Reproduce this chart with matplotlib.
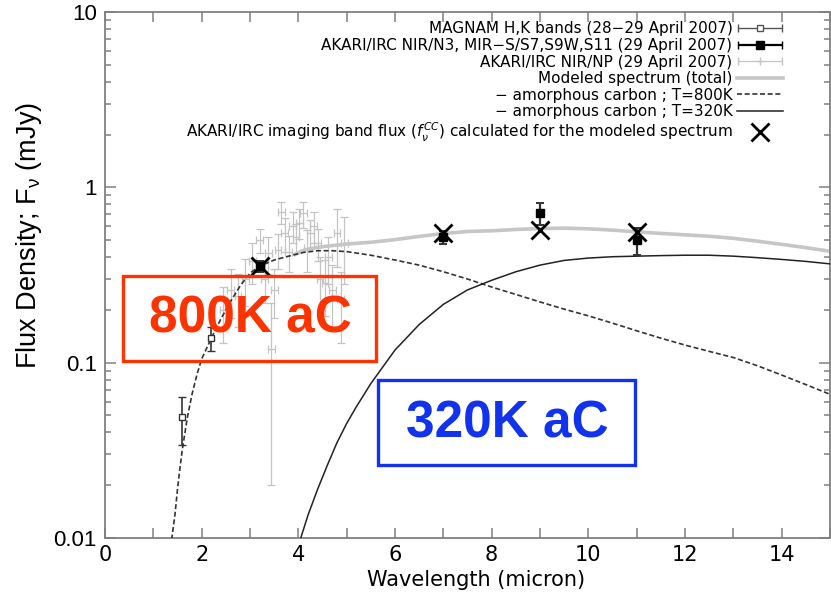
import numpy as np
import matplotlib
matplotlib.use("Agg")
import matplotlib.pyplot as plt
from matplotlib.patches import Rectangle
from matplotlib.lines import Line2D
from matplotlib.ticker import LogLocator, NullFormatter, MultipleLocator
from matplotlib.legend_handler import HandlerErrorbar
from matplotlib.container import ErrorbarContainer

# ---------------- data ----------------
# MAGNAM H,K bands
mag_w = [1.6, 2.2]
mag_f = [0.049, 0.138]
mag_e = [0.015, 0.021]

# AKARI/IRC N3, S7, S9W, S11
ak_w = [3.2, 7.0, 9.0, 11.0]
ak_f = [0.355, 0.52, 0.71, 0.50]
ak_e = [0.025, 0.045, 0.10, 0.09]

# AKARI/IRC NIR/NP spectrum
np_w = [2.45, 2.6, 2.75, 2.9, 3.05, 3.2, 3.3, 3.38, 3.44, 3.5, 3.58, 3.65,
        3.72, 3.8, 3.88, 3.95, 4.02, 4.1, 4.18, 4.25, 4.32, 4.4, 4.45, 4.55,
        4.62, 4.7, 4.8, 4.88, 4.95]
np_f = [0.20, 0.26, 0.24, 0.30, 0.38, 0.50, 0.30, 0.42, 0.12, 0.26, 0.44, 0.72,
        0.55, 0.43, 0.60, 0.52, 0.63, 0.71, 0.45, 0.55, 0.60, 0.48, 0.30, 0.285,
        0.40, 0.26, 0.55, 0.23, 0.48]
np_e = [0.07, 0.08, 0.08, 0.09, 0.10, 0.08, 0.08, 0.10, 0.10, 0.08, 0.10, 0.10,
        0.12, 0.10, 0.12, 0.10, 0.12, 0.12, 0.12, 0.10, 0.12, 0.10, 0.10, 0.10,
        0.12, 0.10, 0.20, 0.10, 0.20]
np_xe = 0.07

# model curves
m800_w = [1.38, 1.45, 1.5, 1.55, 1.6, 1.7, 1.8, 1.9, 2.0, 2.2, 2.4, 2.6, 2.8,
          3.0, 3.2, 3.5, 3.8, 4.1, 4.4, 4.7, 5.0, 5.5, 6.0, 6.5, 7.0, 7.5, 8.0,
          8.5, 9.0, 9.5, 10.0, 10.5, 11.0, 11.5, 12.0, 12.5, 13.0, 13.5, 14.0,
          14.5, 15.0]
m800_f = [0.0098, 0.0138, 0.019, 0.025, 0.032, 0.048, 0.066, 0.085, 0.105,
          0.138, 0.178, 0.224, 0.275, 0.324, 0.355, 0.385, 0.405, 0.425, 0.435,
          0.435, 0.43, 0.41, 0.385, 0.36, 0.33, 0.30, 0.27, 0.245, 0.222, 0.202,
          0.185, 0.168, 0.152, 0.138, 0.126, 0.116, 0.107, 0.096, 0.085, 0.075,
          0.066]

m320_w = [4.04, 4.2, 4.4, 4.6, 4.8, 5.0, 5.2, 5.5, 6.0, 6.5, 7.0, 7.5, 8.0, 8.5,
          9.0, 9.5, 10.0, 10.5, 11.0, 11.5, 12.0, 12.5, 13.0, 13.5, 14.0, 14.5, 15.0]
m320_f = [0.0098, 0.0135, 0.019, 0.026, 0.035, 0.045, 0.056, 0.076, 0.118, 0.165,
          0.215, 0.26, 0.295, 0.33, 0.36, 0.383, 0.395, 0.402, 0.405, 0.408,
          0.41, 0.41, 0.405, 0.397, 0.388, 0.378, 0.366]

tot_w = [3.9, 4.1, 4.4, 4.7, 5.0, 5.5, 6.0, 6.5, 7.0, 7.5, 8.0, 8.5, 9.0,
         9.5, 10.0, 10.5, 11.0, 11.5, 12.0, 12.5, 13.0, 13.5, 14.0, 14.5, 15.0]
tot_f = [0.41, 0.437, 0.455, 0.465, 0.475,
         0.486, 0.503, 0.525, 0.545, 0.56, 0.565, 0.575, 0.582, 0.585, 0.58,
         0.57, 0.557, 0.546, 0.536, 0.526, 0.512, 0.493, 0.473, 0.453, 0.432]

# band fluxes calculated for the model
cc_w = [3.2, 7.0, 9.0, 11.0]
cc_f = [0.355, 0.55, 0.57, 0.557]

xticks = [0, 2, 4, 6, 8, 10, 12, 14]
yticks = [0.01, 0.1, 1, 10]
ytick_labels = ["0.01", "0.1", "1", "10"]

# ---------------- figure ----------------
W, H = 831, 597
fig = plt.figure(figsize=(W / 100, H / 100), dpi=100)
ax = fig.add_axes([105 / W, 59 / H, 725 / W, 526 / H])
ax.set_yscale("log")
ax.set_xlim(0, 15)
ax.set_ylim(0.01, 10)

spc = "#808080"
for s in ax.spines.values():
    s.set_color(spc)
    s.set_linewidth(1.3)

# model lines
ax.plot(tot_w, tot_f, color="#c6c6c6", lw=2.6, zorder=2, solid_capstyle="butt")
ax.plot(m800_w, m800_f, color="#333333", lw=1.2, ls=(0, (3, 1.6)), zorder=3)
ax.plot(m320_w, m320_f, color="#222222", lw=1.1, zorder=3)

# NP spectrum
ax.errorbar(np_w, np_f, yerr=np_e, xerr=np_xe, fmt="none", ecolor="#c4c4c4",
            elinewidth=0.9, capsize=3, capthick=0.9, zorder=1)
# MAGNAM
ax.errorbar(mag_w, mag_f, yerr=mag_e, fmt="s", ms=5, mfc="white", mec="#333333",
            ecolor="#333333", elinewidth=1.2, capsize=3, zorder=4)
# AKARI photometry
ax.errorbar(ak_w, ak_f, yerr=ak_e, fmt="s", ms=5.5, color="black",
            ecolor="#333333", elinewidth=1.6, capsize=3, capthick=1.4, zorder=4)
# calculated band fluxes
ax.plot(cc_w, cc_f, "x", ms=13, mew=2.0, color="black", zorder=5)

# ticks
ax.set_xticks(xticks)
ax.xaxis.set_minor_locator(MultipleLocator(1))
ax.set_yticks(yticks)
ax.set_yticklabels(ytick_labels)
ax.yaxis.set_minor_locator(LogLocator(base=10, subs=np.arange(2, 10)))
ax.yaxis.set_minor_formatter(NullFormatter())
ax.tick_params(which="both", direction="in", top=True, right=True, color=spc,
               width=1.1)
ax.tick_params(axis="x", which="both", length=7)
ax.tick_params(axis="y", which="major", length=8)
ax.tick_params(axis="y", which="minor", length=4.5)
ax.tick_params(axis="x", labelsize=15, pad=5)
ax.tick_params(axis="y", labelsize=16, pad=6)
for t in ax.get_yticklabels():
    t.set_fontfamily("Liberation Sans")
for t in ax.get_xticklabels():
    t.set_fontfamily("DejaVu Sans")

ax.set_xlabel("Wavelength (micron)", fontsize=15, family="DejaVu Sans")
ax.xaxis.set_label_coords(0.512, -0.060)
ax.set_ylabel(r"Flux Density; F$_\mathregular{\nu}$ (mJy)", fontsize=19.5,
              family="Liberation Sans")
ax.yaxis.set_label_coords(-0.084, 0.575)

# legend
h1 = ax.errorbar([np.nan], [np.nan], xerr=[1], fmt="s", ms=5, mfc="white",
                 mec="#555555", ecolor="#555555", elinewidth=1.0, capsize=3)
h2 = ax.errorbar([np.nan], [np.nan], xerr=[1], fmt="s", ms=5.5, color="black",
                 ecolor="black", elinewidth=1.6, capsize=3)
h3 = ax.errorbar([np.nan], [np.nan], xerr=[1], fmt="+", ms=6, color="#c4c4c4",
                 ecolor="#c4c4c4", elinewidth=0.9, capsize=3)
h4 = Line2D([], [], color="#c6c6c6", lw=2.6)
h5 = Line2D([], [], color="#333333", lw=1.2, ls=(0, (3, 1.6)))
h6 = Line2D([], [], color="#222222", lw=1.1)
h7 = Line2D([], [], color="black", marker="x", ms=13, mew=2.0, ls="none")
labels = [
    "MAGNAM H,K bands (28\u221229 April 2007)",
    "AKARI/IRC NIR/N3, MIR\u2212S/S7,S9W,S11 (29 April 2007)",
    "AKARI/IRC NIR/NP (29 April 2007)",
    "Modeled spectrum (total)",
    "\u2212 amorphous carbon ; T=800K",
    "\u2212 amorphous carbon ; T=320K",
    r"AKARI/IRC imaging band flux ($f_\nu^{CC}$) calculated for the modeled spectrum",
]
leg = ax.legend([h1, h2, h3, h4, h5, h6, h7], labels, loc="upper right",
                bbox_to_anchor=(0.935, 0.982), frameon=False, markerfirst=False,
                prop={"family": "DejaVu Sans", "size": 11},
                handlelength=3.0, handletextpad=0.3, labelspacing=0.1,
                borderpad=0, borderaxespad=0,
                handler_map={ErrorbarContainer: HandlerErrorbar(xerr_size=1.45)})

# annotation boxes (figure pixel coordinates)
def px_rect(x0, y0, x1, y1, color):
    r = Rectangle((x0 / W, 1 - y1 / H), (x1 - x0) / W, (y1 - y0) / H,
                  transform=fig.transFigure, fill=False,
                  edgecolor=color, lw=2.4, zorder=10)
    fig.patches.append(r)

red = "#ff3300"
blue = "#1133ee"
px_rect(123, 276, 376, 361, red)
fig.text(250 / W, 1 - 319 / H, "800K aC", color=red, fontsize=37,
         fontweight="bold", family="Liberation Sans", ha="center", va="center",
         zorder=11)
px_rect(378, 380, 635, 465, blue)
fig.text(507 / W, 1 - 424 / H, "320K aC", color=blue, fontsize=37,
         fontweight="bold", family="Liberation Sans", ha="center", va="center",
         zorder=11)

fig.savefig("out.png", dpi=100)
